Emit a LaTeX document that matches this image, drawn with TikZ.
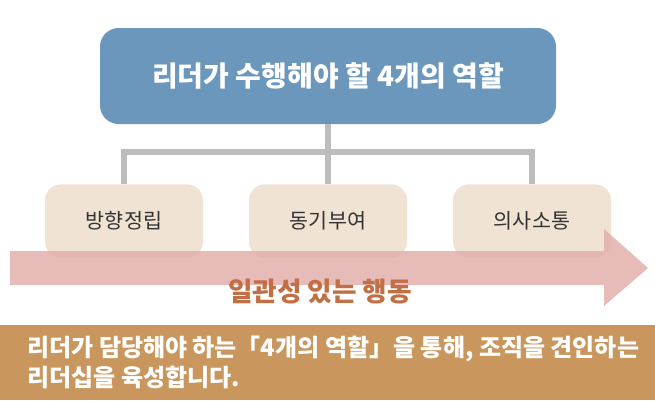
\documentclass[tikz,border=0pt]{standalone}
\usepackage{fontspec}
\setmainfont{Noto Sans CJK KR}
\usetikzlibrary{positioning}
\definecolor{roleblue}{HTML}{6A97BB}
\definecolor{rolebeige}{HTML}{F0E3D3}
\definecolor{arrowpink}{HTML}{E3AFAB}
\definecolor{actbrown}{HTML}{C26F45}
\definecolor{bandtan}{HTML}{C9975E}
\definecolor{linkgray}{HTML}{BDBDBD}
\tikzset{
  rolebox/.style={fill=rolebeige,rounded corners=12pt,minimum width=118.5pt,
    minimum height=55pt,font=\fontsize{15.5}{18}\selectfont,text=black!80},
  link/.style={draw=linkgray,line width=5pt}
}
\begin{document}
\begin{tikzpicture}[x=0.75pt,y=-0.75pt]
\useasboundingbox (0,0) rectangle (655,400);
\node[fill=roleblue,rounded corners=14pt,minimum width=342pt,minimum height=72pt,
  text=white,font=\bfseries\fontsize{21}{24}\selectfont] (top) at (328,76)
  {리더가 수행해야 할 4개의 역할};
\node[rolebox] (r1) at (124,221) {방향정립};
\node[rolebox] (r2) at (328,221) {동기부여};
\node[rolebox] (r3) at (532,221) {의사소통};
\coordinate (j) at (328,152);
\draw[link] (top.south) -- (j);
\draw[link] (r1.north) |- (j) -| (r3.north);
\draw[link] (j) -- (r2.north);
% arrow
\fill[arrowpink,opacity=0.85] (10,251) -- (604,251) -- (604,229) -- (648,268)
  -- (604,306) -- (604,285) -- (10,285) -- cycle;
\node[text=actbrown,font=\bfseries\fontsize{20}{22}\selectfont] (act) at (320,292)
  {일관성 있는 행동};
\fill[bandtan] (0,325) rectangle (655,400);
\node[anchor=north west,text=white,align=left,inner sep=0pt,
  font=\bfseries\fontsize{18}{22}\selectfont] (msg) at (27,336)
  {리더가 담당해야 하는「4개의 역할」을 통해, 조직을 견인하는\\리더십을 육성합니다.};
\end{tikzpicture}
\end{document}
